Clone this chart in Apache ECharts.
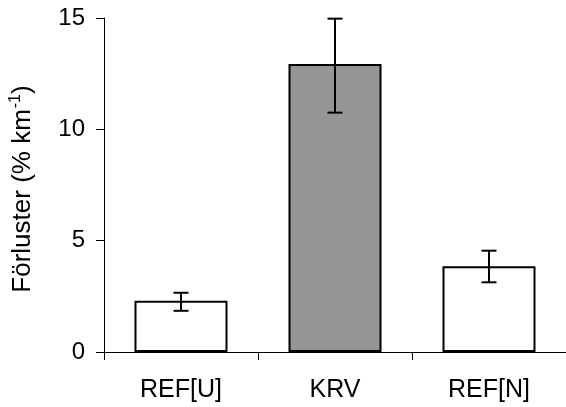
<!DOCTYPE html>
<html>
<head>
<meta charset="utf-8">
<script src="https://cdn.jsdelivr.net/npm/echarts@6/dist/echarts.min.js"></script>
<style>
html,body{margin:0;padding:0;background:#fff;}
#chart{width:566px;height:407px;}
</style>
</head>
<body>
<div id="chart"></div>
<script>
var categories = ['REF[U]', 'KRV', 'REF[N]'];
var means = [2.3, 12.93, 3.85];
var errLow = [1.85, 10.75, 3.13];
var errHigh = [2.66, 14.97, 4.55];
var barColors = ['#ffffff', '#969696', '#ffffff'];
var yTicks = { min: 0, max: 15, interval: 5 };

var FONT = 'Liberation Sans, Arial, sans-serif';
var chart = echarts.init(document.getElementById('chart'), null, { renderer: 'canvas' });

var barData = means.map(function (v, i) {
  return { value: v, itemStyle: { color: barColors[i] } };
});
var errData = categories.map(function (c, i) { return [i, errLow[i], errHigh[i]]; });

chart.setOption({
  animation: false,
  backgroundColor: '#ffffff',
  grid: { left: 102, right: -4, top: 18, bottom: 55, containLabel: false },
  xAxis: {
    type: 'category',
    data: categories,
    axisLine: { show: true, lineStyle: { color: '#000', width: 1 } },
    axisTick: { show: true, inside: false, length: 8, alignWithLabel: false, lineStyle: { color: '#000', width: 1 } },
    axisLabel: { color: '#000', fontSize: 25, fontFamily: FONT, margin: 26 },
    splitLine: { show: false }
  },
  yAxis: {
    type: 'value',
    min: yTicks.min, max: yTicks.max, interval: yTicks.interval,
    axisLine: { show: true, lineStyle: { color: '#000', width: 1 } },
    axisTick: { show: true, inside: false, length: 8, lineStyle: { color: '#000', width: 1 } },
    axisLabel: { color: '#000', fontSize: 24, fontFamily: FONT, margin: 19 },
    splitLine: { show: false },
    name: '{a|Förluster (% km}{s|-1}{a|)}',
    nameLocation: 'middle',
    nameRotate: 90,
    nameGap: 66,
    nameTextStyle: {
      padding: [0, 8, 0, 0],
      rich: {
        a: { fontSize: 26, fontFamily: FONT, color: '#000', lineHeight: 30 },
        s: { fontSize: 16, fontFamily: FONT, color: '#000', verticalAlign: 'top', lineHeight: 16, padding: [0, 0, 0, 1] }
      }
    }
  },
  series: [
    {
      type: 'bar',
      data: barData,
      barWidth: 93,
      itemStyle: { borderColor: '#000', borderWidth: 2 },
      z: 2
    },
    {
      type: 'custom',
      data: errData,
      z: 5,
      renderItem: function (params, api) {
        var x = api.value(0);
        var lo = api.coord([x, api.value(1)]);
        var hi = api.coord([x, api.value(2)]);
        var half = 7.5;
        var style = { stroke: '#000', lineWidth: 2, fill: null };
        return {
          type: 'group',
          children: [
            { type: 'line', shape: { x1: hi[0], y1: hi[1], x2: lo[0], y2: lo[1] }, style: style },
            { type: 'line', shape: { x1: hi[0] - half, y1: hi[1], x2: hi[0] + half, y2: hi[1] }, style: style },
            { type: 'line', shape: { x1: lo[0] - half, y1: lo[1], x2: lo[0] + half, y2: lo[1] }, style: style }
          ]
        };
      }
    }
  ]
});
</script>
</body>
</html>
